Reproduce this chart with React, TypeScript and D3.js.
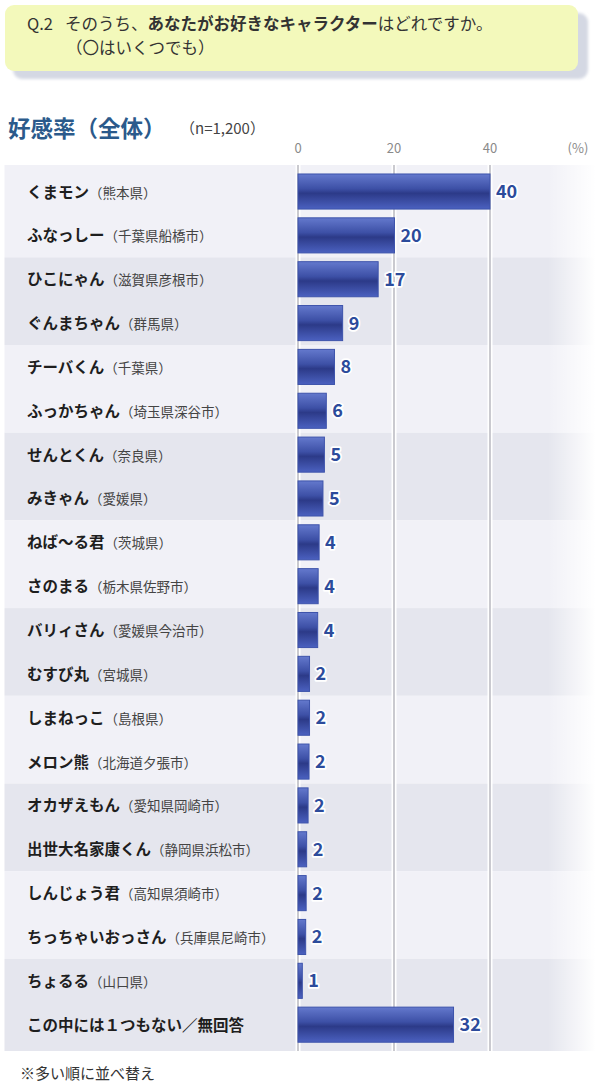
import React, { useEffect, useRef } from 'react';
import * as d3 from 'd3';

// ゆるキャラ好感率 (全体, n=1,200)
const characters = [
  'くまモン', 'ふなっしー', 'ひこにゃん', 'ぐんまちゃん', 'チーバくん',
  'ふっかちゃん', 'せんとくん', 'みきゃん', 'ねば～る君', 'さのまる',
  'バリィさん', 'むすび丸', 'しまねっこ', 'メロン熊', 'オカザえもん',
  '出世大名家康くん', 'しんじょう君', 'ちっちゃいおっさん', 'ちょるる', 'この中には１つもない／無回答',
];
const prefectures = [
  '熊本県', '千葉県船橋市', '滋賀県彦根市', '群馬県', '千葉県',
  '埼玉県深谷市', '奈良県', '愛媛県', '茨城県', '栃木県佐野市',
  '愛媛県今治市', '宮城県', '島根県', '北海道夕張市', '愛知県岡崎市',
  '静岡県浜松市', '高知県須崎市', '兵庫県尼崎市', '山口県', '',
];
// bar lengths (%), labels are the rounded figures shown
const shares = [40.0, 20.1, 16.7, 9.3, 7.6, 5.9, 5.5, 5.2, 4.4, 4.2, 4.1, 2.4, 2.4, 2.3, 2.1, 1.8, 1.7, 1.6, 0.9, 32.4];
const shareLabels = ['40', '20', '17', '9', '8', '6', '5', '5', '4', '4', '4', '2', '2', '2', '2', '2', '2', '2', '1', '32'];
const xTicks = [0, 20, 40];

const FONT = '"Noto Sans CJK JP", "Noto Sans", sans-serif';

const App = () => {
  const svgRef = useRef<SVGSVGElement | null>(null);

  useEffect(() => {
    const svg = d3.select(svgRef.current);
    svg.selectAll('*').remove();

    const x = d3.scaleLinear().domain([0, 40]).range([298, 490]);
    const y = d3.scaleBand<number>()
      .domain(d3.range(characters.length))
      .range([169.6, 1046.6]);
    const barH = y.bandwidth() * 0.8;

    const defs = svg.append('defs');
    const barGrad = defs.append('linearGradient')
      .attr('id', 'barGrad').attr('x1', 0).attr('y1', 0).attr('x2', 0).attr('y2', 1);
    [[0, '#6479cd'], [0.42, '#3d50a6'], [0.55, '#2c3a88'], [1, '#4b61c0']].forEach(([o, c]) => {
      barGrad.append('stop').attr('offset', o as number).attr('stop-color', c as string);
    });
    const fade = defs.append('linearGradient')
      .attr('id', 'fade').attr('x1', 0).attr('y1', 0).attr('x2', 1).attr('y2', 0);
    fade.append('stop').attr('offset', 0).attr('stop-color', '#fff').attr('stop-opacity', 0);
    fade.append('stop').attr('offset', 1).attr('stop-color', '#fff').attr('stop-opacity', 1);
    const shadow = defs.append('filter').attr('id', 'blur');
    shadow.append('feGaussianBlur').attr('stdDeviation', 1.5);

    // question box
    svg.append('rect')
      .attr('x', 13).attr('y', 13).attr('width', 575).attr('height', 66).attr('rx', 9)
      .attr('fill', '#d4d8e3').attr('filter', 'url(#blur)');
    svg.append('rect')
      .attr('x', 5).attr('y', 5).attr('width', 573).attr('height', 66).attr('rx', 9)
      .attr('fill', '#f3f9bb');
    const q = svg.append('text')
      .attr('x', 27).attr('y', 30)
      .attr('font-family', FONT).attr('font-size', 16.5).attr('fill', '#333');
    q.append('tspan').text('Q.2');
    q.append('tspan').attr('dx', 12).text('そのうち、');
    q.append('tspan').attr('font-weight', 700).text('あなたがお好きなキャラクター');
    q.append('tspan').text('はどれですか。');
    svg.append('text')
      .attr('x', 66).attr('y', 54)
      .attr('font-family', FONT).attr('font-size', 16.5).attr('fill', '#333')
      .text('（〇はいくつでも）');

    // title
    svg.append('text')
      .attr('x', 8).attr('y', 137)
      .attr('font-family', FONT).attr('font-size', 22.5).attr('font-weight', 700)
      .attr('fill', '#2b5a8b')
      .text('好感率（全体）');
    svg.append('text')
      .attr('x', 180).attr('y', 134)
      .attr('font-family', FONT).attr('font-size', 15).attr('fill', '#444')
      .text('（n=1,200）');

    // axis labels
    svg.append('g').selectAll('text')
      .data(xTicks)
      .enter().append('text')
      .attr('x', d => x(d)).attr('y', 153)
      .attr('text-anchor', 'middle')
      .attr('font-family', FONT).attr('font-size', 13).attr('fill', '#8a8a8a')
      .text(d => d);
    svg.append('text')
      .attr('x', 578).attr('y', 153).attr('text-anchor', 'middle')
      .attr('font-family', FONT).attr('font-size', 13).attr('fill', '#8a8a8a')
      .text('(%)');

    // row bands, two rows per band
    const top = 165;
    const bottom = 1051;
    const bands = d3.range(0, characters.length, 2);
    svg.append('g').selectAll('rect')
      .data(bands)
      .enter().append('rect')
      .attr('x', 4.5)
      .attr('y', d => (d === 0 ? top : (y(d) as number)))
      .attr('width', 590)
      .attr('height', d => {
        const y0 = d === 0 ? top : (y(d) as number);
        const y1 = d + 2 >= characters.length ? bottom : (y(d + 1) as number) + y.bandwidth();
        return y1 - y0;
      })
      .attr('fill', (d, i) => (i % 2 === 0 ? '#f1f1f7' : '#e5e6ee'));
    svg.append('rect')
      .attr('x', 548).attr('y', top).attr('width', 48).attr('height', bottom - top)
      .attr('fill', 'url(#fade)');

    // grid lines
    const grid = svg.append('g');
    grid.selectAll('.gw')
      .data(xTicks)
      .enter().append('line')
      .attr('x1', d => x(d)).attr('x2', d => x(d))
      .attr('y1', top).attr('y2', bottom)
      .attr('stroke', '#fff').attr('stroke-width', 5);
    grid.selectAll('.gl')
      .data(xTicks)
      .enter().append('line')
      .attr('x1', d => x(d)).attr('x2', d => x(d))
      .attr('y1', top).attr('y2', bottom)
      .attr('stroke', '#aeaeb6').attr('stroke-width', 1.3);

    // row labels
    const labels = svg.append('g').selectAll('text')
      .data(characters)
      .enter().append('text')
      .attr('x', 27)
      .attr('y', (d, i) => (y(i) as number) + y.bandwidth() / 2 + 6)
      .attr('font-family', FONT);
    labels.append('tspan')
      .attr('font-size', 15.5).attr('font-weight', 700).attr('fill', '#1e1e1e')
      .text(d => d);
    labels.append('tspan')
      .attr('font-size', 13.5).attr('fill', '#444')
      .text((d, i) => (prefectures[i] ? `（${prefectures[i]}）` : ''));

    // bars
    svg.append('g').selectAll('rect')
      .data(shares)
      .enter().append('rect')
      .attr('x', x(0))
      .attr('y', (d, i) => (y(i) as number) + (y.bandwidth() - barH) / 2)
      .attr('width', d => x(d) - x(0))
      .attr('height', barH)
      .attr('fill', 'url(#barGrad)')
      .attr('stroke', '#3d53ab').attr('stroke-width', 1);

    // value labels
    svg.append('g').selectAll('text')
      .data(shares)
      .enter().append('text')
      .attr('x', d => x(d) + 6)
      .attr('y', (d, i) => (y(i) as number) + y.bandwidth() / 2 + 6.5)
      .attr('font-family', FONT).attr('font-size', 18).attr('font-weight', 700)
      .attr('fill', '#2c4b9b')
      .attr('stroke', '#fff').attr('stroke-width', 3.5).attr('paint-order', 'stroke')
      .attr('stroke-linejoin', 'round')
      .text((d, i) => shareLabels[i]);

    // footnote
    svg.append('text')
      .attr('x', 20).attr('y', 1079)
      .attr('font-family', FONT).attr('font-size', 15).attr('fill', '#333')
      .text('※多い順に並べ替え');
  }, []);

  return (
    <svg
      ref={svgRef}
      width={600}
      height={1085}
      style={{ display: 'block', position: 'absolute', left: 0, top: 0, background: '#fff' }}
    />
  );
};

export default App;
